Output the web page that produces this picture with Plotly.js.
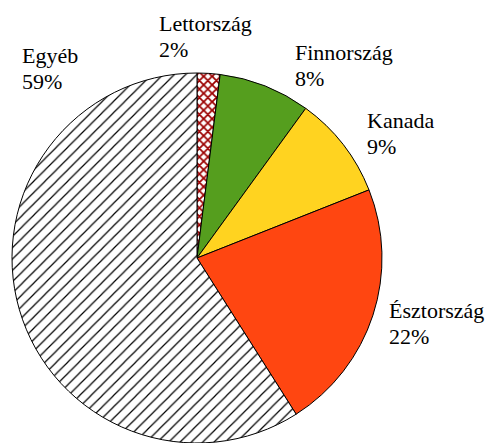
<!DOCTYPE html>
<html>
<head>
<meta charset="utf-8">
<script src="https://cdn.plot.ly/plotly-3.0.1.min.js"></script>
<style>
  body { margin: 0; background: #fff; }
  #grafico { width: 502px; height: 443px; }
</style>
</head>
<body>
<div id="grafico"></div>
<script>
const orszagok = ["Lettország", "Finnország", "Kanada", "Észtország", "Egyéb"];
const aranyok = [2, 8, 9, 22, 59];
const szinek = ["#ffffff", "#559e1e", "#ffd320", "#ff4611", "#ffffff"];

// mintak: Lettorszag racsos, Egyeb csikos
const mintak = ["x", "", "", "", "/"];
const mintaSzin = ["#9b0000", "#000000", "#000000", "#000000", "#000000"];

// feliratok: bal szel es alapvonal pixelben
const feliratX = [157, 293, 365, 387, 20];
const alapvonal = [31, 60, 128, 318, 63];
const sorkoz = 26;

const W = 502, H = 443;
const betu = 22;
const betuCsalad = "'Liberation Serif', 'DejaVu Serif', serif";

const trace = {
    type: "pie",
    labels: orszagok,
    values: aranyok,
    sort: false,
    direction: "clockwise",
    rotation: 0,
    textinfo: "none",
    hoverinfo: "label+percent",
    marker: {
        colors: szinek,
        line: { color: "#000000", width: 1 },
        pattern: {
            shape: mintak,
            fgcolor: mintaSzin,
            bgcolor: "#ffffff",
            size: [6, 8, 8, 8, 8],
            solidity: [0.5, 0.1, 0.1, 0.1, 0.15],
            fillmode: "replace"
        }
    },
    domain: {
        x: [12 / W, 382 / W],
        y: [0, (H - 73) / H]
    }
};

const osszeg = aranyok.reduce((a, b) => a + b, 0);

function felirat(szoveg, x, alap) {
    return {
        text: szoveg,
        x: x / W,
        y: 1 - (alap - 0.33 * betu) / H,
        xref: "paper",
        yref: "paper",
        xanchor: "left",
        yanchor: "middle",
        align: "left",
        showarrow: false,
        font: { family: betuCsalad, size: betu, color: "#000000" }
    };
}

const feliratok = [];
orszagok.forEach((nev, i) => {
    feliratok.push(felirat(nev, feliratX[i], alapvonal[i]));
    feliratok.push(felirat(Math.round(aranyok[i] / osszeg * 100) + "%", feliratX[i], alapvonal[i] + sorkoz));
});

const layout = {
    width: W,
    height: H,
    margin: { l: 0, r: 0, t: 0, b: 0 },
    showlegend: false,
    paper_bgcolor: "#ffffff",
    font: { family: betuCsalad },
    annotations: feliratok
};

Plotly.newPlot("grafico", [trace], layout, { displayModeBar: false });
</script>
</body>
</html>
